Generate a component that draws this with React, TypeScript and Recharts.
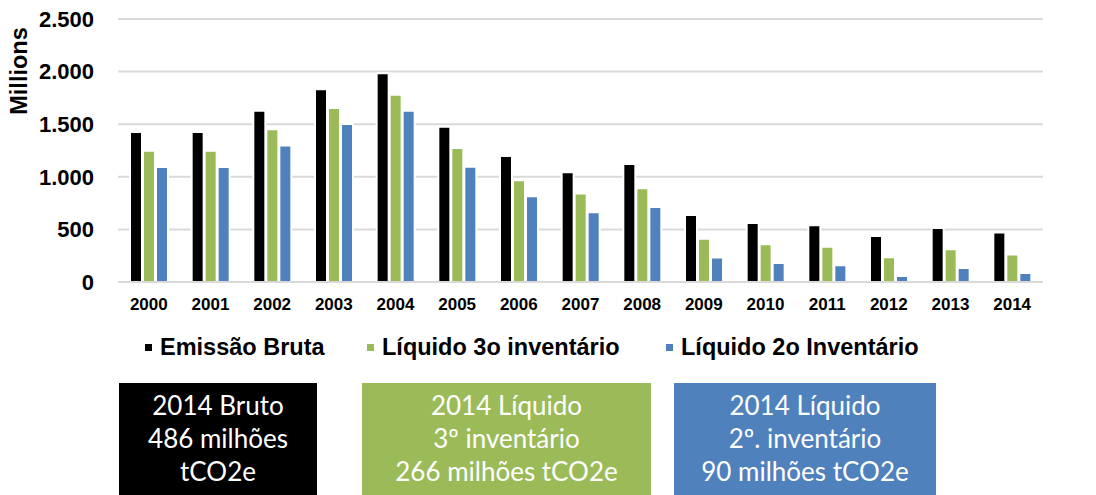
import React from 'react';
import { BarChart, Bar, XAxis, YAxis, CartesianGrid, Legend } from 'recharts';

const years = ['2000','2001','2002','2003','2004','2005','2006','2007','2008','2009','2010','2011','2012','2013','2014'];
const emissaoBruta = [1426, 1426, 1629, 1832, 1984, 1476, 1197, 1044, 1121, 638, 562, 540, 438, 514, 470];
const liquido3 = [1248, 1248, 1451, 1654, 1781, 1273, 968, 841, 892, 410, 359, 336, 235, 311, 262];
const liquido2 = [1092, 1092, 1298, 1502, 1629, 1095, 816, 663, 714, 232, 181, 159, 57, 133, 85];
const yTicks = [0, 500, 1000, 1500, 2000, 2500];

const seriesNames = ['Emissão Bruta', 'Líquido 3o inventário', 'Líquido 2o Inventário'];
const seriesKeys = ['bruta', 'liq3', 'liq2'];
const colors = ['#000000', '#9bbb59', '#4f81bd'];

const boxLines = [
  ['2014 Bruto', '486 milhões', 'tCO2e'],
  ['2014 Líquido', '3º inventário', '266 milhões tCO2e'],
  ['2014 Líquido', '2º. inventário', '90 milhões tCO2e'],
];

const data = years.map((y, i) => ({
  year: y,
  bruta: emissaoBruta[i],
  liq3: liquido3[i],
  liq2: liquido2[i],
}));

const legendLefts = [145, 367, 666];
const boxStyles = [
  { left: 119, width: 198 },
  { left: 362, width: 289 },
  { left: 674, width: 262 },
];

const fmt = (v: number) => v.toString().replace(/\B(?=(\d{3})+(?!\d))/g, '.');

const LegendContent = () => (
  <div style={{ position: 'relative', width: 1096, height: 28 }}>
    {seriesNames.map((name, i) => (
      <div
        key={name}
        style={{
          position: 'absolute',
          left: legendLefts[i],
          top: 0,
          height: 28,
          display: 'flex',
          alignItems: 'center',
          fontFamily: '"Liberation Sans", Arial, sans-serif',
          fontWeight: 'bold',
          fontSize: 23.5,
          lineHeight: '28px',
          color: '#000',
          whiteSpace: 'nowrap',
        }}
      >
        <span style={{ display: 'inline-block', width: 7, height: 7, background: colors[i], marginRight: 8 }} />
        <span>{name}</span>
      </div>
    ))}
  </div>
);

const MillionsLabel = (props: any) => {
  const vb = props.viewBox || {};
  const x = (vb.x ?? 0) + 19;
  const y = (vb.y ?? 0) + 52;
  return (
    <text
      x={x}
      y={y}
      transform={`rotate(-90 ${x} ${y})`}
      textAnchor="middle"
      dominantBaseline="central"
      fontFamily='"Liberation Sans", Arial, sans-serif'
      fontWeight="bold"
      fontSize={23.5}
      fill="#000"
    >
      Millions
    </text>
  );
};

export default function App() {
  return (
    <div style={{ position: 'absolute', left: 0, top: 0, width: 1096, height: 495, overflow: 'hidden', background: '#fff' }}>
      <BarChart
        width={1096}
        height={495}
        data={data}
        margin={{ top: 19, right: 53, left: 0, bottom: 183 }}
        barSize={12}
        barGap={1}
      >
        <CartesianGrid horizontal vertical={false} stroke="#d9d9d9" strokeWidth={2} />
        <XAxis
          dataKey="year"
          height={30}
          tickLine={false}
          tickSize={0}
          tickMargin={16}
          axisLine={{ stroke: '#d9d9d9', strokeWidth: 2 }}
          interval={0}
          tick={{ fontFamily: '"Liberation Sans", Arial, sans-serif', fontWeight: 'bold', fontSize: 17, fill: '#000' }}
        />
        <YAxis
          width={118}
          domain={[0, 2500]}
          ticks={yTicks}
          tickFormatter={fmt}
          axisLine={false}
          tickLine={false}
          tickSize={0}
          tickMargin={24}
          tick={{ fontFamily: '"Liberation Sans", Arial, sans-serif', fontWeight: 'bold', fontSize: 22, fill: '#000' }}
          label={<MillionsLabel />}
        />
        <Legend
          layout="horizontal"
          verticalAlign="middle"
          align="center"
          wrapperStyle={{ top: 333, left: 0, width: 1096 }}
          content={<LegendContent />}
        />
        {seriesKeys.map((k, i) => (
          <Bar key={k} dataKey={k} name={seriesNames[i]} fill={colors[i]} stroke="#ffffff" strokeWidth={2} isAnimationActive={false} />
        ))}
      </BarChart>
      {boxLines.map((lines, i) => (
        <div
          key={i}
          style={{
            position: 'absolute',
            left: boxStyles[i].left,
            width: boxStyles[i].width,
            top: 383,
            height: 120,
            background: colors[i],
            color: '#fff',
            fontFamily: 'Lato, "Open Sans", sans-serif',
            fontSize: 26,
            lineHeight: '33px',
            textAlign: 'center',
            paddingTop: 6,
            boxSizing: 'border-box',
            whiteSpace: 'nowrap',
          }}
        >
          {lines.map((l, j) => (
            <div key={j}>{l}</div>
          ))}
        </div>
      ))}
    </div>
  );
}
